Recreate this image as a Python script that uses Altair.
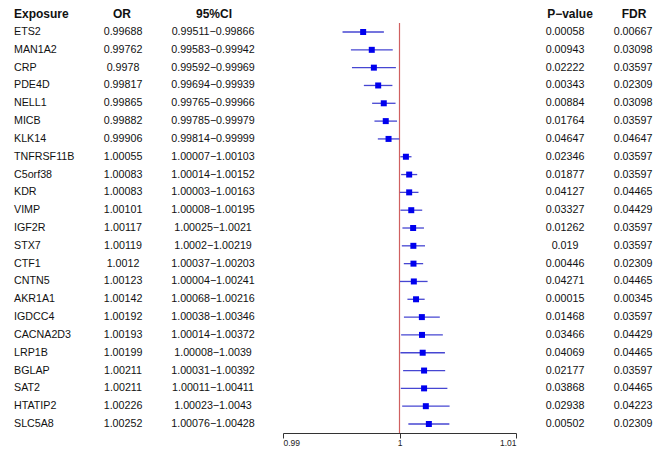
import altair as alt
import pandas as pd

genes = ["ETS2", "MAN1A2", "CRP", "PDE4D", "NELL1", "MICB", "KLK14", "TNFRSF11B",
         "C5orf38", "KDR", "VIMP", "IGF2R", "STX7", "CTF1", "CNTN5", "AKR1A1",
         "IGDCC4", "CACNA2D3", "LRP1B", "BGLAP", "SAT2", "HTATIP2", "SLC5A8"]
odds = [0.99688, 0.99762, 0.9978, 0.99817, 0.99865, 0.99882, 0.99906, 1.00055,
        1.00083, 1.00083, 1.00101, 1.00117, 1.00119, 1.0012, 1.00123, 1.00142,
        1.00192, 1.00193, 1.00199, 1.00211, 1.00211, 1.00226, 1.00252]
low = [0.99511, 0.99583, 0.99592, 0.99694, 0.99765, 0.99785, 0.99814, 1.00007,
       1.00014, 1.00003, 1.00008, 1.00025, 1.0002, 1.00037, 1.00004, 1.00068,
       1.00038, 1.00014, 1.00008, 1.00031, 1.00011, 1.00023, 1.00076]
high = [0.99866, 0.99942, 0.99969, 0.99939, 0.99966, 0.99979, 0.99999, 1.00103,
        1.00152, 1.00163, 1.00195, 1.0021, 1.00219, 1.00203, 1.00241, 1.00216,
        1.00346, 1.00372, 1.0039, 1.00392, 1.00411, 1.0043, 1.00428]
pvals = [0.00058, 0.00943, 0.02222, 0.00343, 0.00884, 0.01764, 0.04647, 0.02346,
         0.01877, 0.04127, 0.03327, 0.01262, 0.019, 0.00446, 0.04271, 0.00015,
         0.01468, 0.03466, 0.04069, 0.02177, 0.03868, 0.02938, 0.00502]
fdr = [0.00667, 0.03098, 0.03597, 0.02309, 0.03098, 0.03597, 0.04647, 0.03597,
       0.03597, 0.04465, 0.04429, 0.03597, 0.03597, 0.02309, 0.04465, 0.00345,
       0.03597, 0.04429, 0.04465, 0.03597, 0.04465, 0.04223, 0.02309]
headers = ["Exposure", "OR", "95%CI", "P\u2212value", "FDR"]
ticks = [0.99, 1.0, 1.01]

df = pd.DataFrame({
    "row": list(range(len(genes))),
    "gene": genes,
    "OR": odds,
    "low": low,
    "high": high,
    "or_txt": [str(v) for v in odds],
    "ci_txt": [f"{str(a)}\u2212{str(b)}" for a, b in zip(low, high)],
    "p_txt": [str(v) for v in pvals],
    "fdr_txt": [str(v) for v in fdr],
})
hdr = pd.DataFrame({"row": [-1] * 5, "label": headers, "col": list(range(5))})

FONT = "Liberation Sans"
n = len(genes)
yscale = alt.Scale(domain=[-1, n - 1], range=[5.2, 415])
xscale = alt.Scale(domain=[0.99, 1.01], range=[275, 508])
Y = alt.Y("row:Q", scale=yscale, axis=None)

base = alt.Chart(df)

xaxis = alt.Axis(values=ticks, labelExpr="datum.value == 1 ? '1' : format(datum.value, '.2f')",
                 grid=False, title=None, domainColor="#333", tickColor="#333",
                 labelFont=FONT, labelFontSize=8.5, labelColor="#222", tickSize=5,
                 labelPadding=0, domainWidth=1)

refdf = pd.DataFrame({"x": [1.0], "y0": [-0.5], "y1": [n - 0.5]})
ref = alt.Chart(refdf).mark_rule(strokeWidth=1.2).encode(
    x=alt.X("x:Q", scale=xscale, axis=xaxis),
    y=alt.Y("y0:Q", scale=yscale, axis=None), y2="y1:Q",
    color=alt.value("#d06060"))

ci = base.mark_rule(color="#4646d2", strokeWidth=1.3).encode(
    x=alt.X("low:Q", scale=xscale), x2="high:Q", y=Y)
pts = base.mark_square(color="#0000ee", size=36, opacity=1).encode(
    x=alt.X("OR:Q", scale=xscale), y=Y)

def col(field, xpos, align):
    return base.mark_text(font=FONT, fontSize=10.7, align=align, baseline="middle",
                          color="#111").encode(x=alt.value(xpos), y=Y, text=f"{field}:N")

t_gene = col("gene", 6, "left")
t_or = col("or_txt", 115, "center")
t_ci = col("ci_txt", 205, "center")
t_p = col("p_txt", 557, "center")
t_fdr = col("fdr_txt", 625, "center")

hdr_base = alt.Chart(hdr)
def hcol(i, xpos, align):
    return hdr_base.transform_filter(f"datum.col == {i}").mark_text(
        font=FONT, fontSize=12, fontWeight="bold", align=align, baseline="middle",
        color="#111").encode(x=alt.value(xpos), y=Y, text="label:N")

headers_layer = [hcol(0, 6, "left"), hcol(1, 114, "center"), hcol(2, 206, "center"),
                 hcol(3, 562, "center"), hcol(4, 626, "center")]

chart = alt.layer(ref, ci, pts, t_gene, t_or, t_ci, t_p, t_fdr, *headers_layer).properties(
    width=653, height=424, padding=0, background="white"
).configure_view(stroke=None)

chart.save("out.html", embed_options={"renderer": "svg", "actions": False})
